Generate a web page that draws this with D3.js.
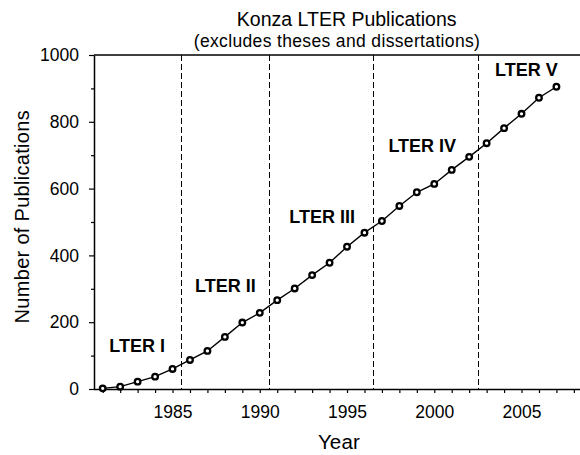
<!DOCTYPE html>
<html>
<head>
<meta charset="utf-8">
<script src="https://cdn.jsdelivr.net/npm/d3@7"></script>
<style>
  html, body { margin: 0; padding: 0; background: #fff; }
  svg { display: block; font-family: "Liberation Sans", Arial, sans-serif; }
</style>
</head>
<body>
<svg id="chart" width="580" height="455"></svg>
<script>
// ---- Data ----
const years = [1981, 1982, 1983, 1984, 1985, 1986, 1987, 1988, 1989, 1990,
               1991, 1992, 1993, 1994, 1995, 1996, 1997, 1998, 1999, 2000,
               2001, 2002, 2003, 2004, 2005, 2006, 2007];
const publications = [2, 7, 22, 37, 60, 87, 114, 156, 199, 228,
                      266, 301, 341, 378, 426, 468, 503, 548, 589, 614,
                      656, 695, 736, 781, 824, 872, 905];
const phaseBoundaries = [1985.5, 1990.5, 1996.5, 2002.5];
const phaseNames = ["LTER I", "LTER II", "LTER III", "LTER IV", "LTER V"];
const xTickYears = [1981, 1982, 1983, 1984, 1985, 1986, 1987, 1988, 1989, 1990,
                    1991, 1992, 1993, 1994, 1995, 1996, 1997, 1998, 1999, 2000,
                    2001, 2002, 2003, 2004, 2005, 2006, 2007, 2008];
const yMajorTicks = [0, 200, 400, 600, 800, 1000];
const yMinorTicks = [100, 300, 500, 700, 900];
const titleText = "Konza LTER Publications";
const subtitleText = "(excludes theses and dissertations)";
const xLabel = "Year";
const yLabel = "Number of Publications";

(function () {
// ---- Layout ----
const svg = d3.select("#chart");
const mLeft = 94, mTop = 55, mBottom = 389;
const pxPerYear = 17.45;
const x = d3.scaleLinear().domain([1980.5, 2008.5]).range([mLeft, mLeft + 28 * pxPerYear]);
const y = d3.scaleLinear().domain([0, 1000]).range([mBottom, mTop]);

// phase label anchors in data units (year, value)
const phaseAnchors = [[1981.38, 112], [1986.29, 291], [1991.69, 498], [1997.37, 710], [2003.48, 937]];

// dashed phase boundaries
svg.append("g").selectAll("line").data(phaseBoundaries).join("line")
  .attr("x1", d => Math.round(x(d)) + 0.5).attr("x2", d => Math.round(x(d)) + 0.5)
  .attr("y1", y(1000)).attr("y2", y(0))
  .attr("stroke", "#000").attr("stroke-width", 1)
  .attr("stroke-dasharray", "6,3");

// top frame line
svg.append("line")
  .attr("x1", mLeft).attr("x2", 600)
  .attr("y1", y(1000)).attr("y2", y(1000))
  .attr("stroke", "#000").attr("stroke-width", 1.5);

// x axis
const xAxis = d3.axisBottom(x).tickValues(xTickYears).tickSize(4).tickSizeOuter(0)
  .tickFormat(d => (d % 5 === 0 ? String(d) : ""));
const gx = svg.append("g").attr("transform", `translate(0,${mBottom})`).call(xAxis);
gx.select(".domain").attr("d", `M${mLeft},0.5H600`).attr("stroke-width", 1.5);
gx.selectAll(".tick line").attr("stroke-width", 1.2);
gx.selectAll(".tick text").attr("font-size", 17.5).attr("font-family", "Liberation Sans, Arial, sans-serif")
  .attr("fill", "#000").attr("y", 17).attr("dy", "0.71em");

// y axis minor
const gyMinor = svg.append("g").attr("transform", `translate(${mLeft},0)`)
  .call(d3.axisLeft(y).tickValues(yMinorTicks).tickSize(3).tickFormat(""));
gyMinor.select(".domain").remove();
gyMinor.selectAll(".tick line").attr("stroke-width", 1.2);

// y axis major
const gy = svg.append("g").attr("transform", `translate(${mLeft},0)`)
  .call(d3.axisLeft(y).tickValues(yMajorTicks).tickSize(5).tickSizeOuter(0).tickPadding(10)
    .tickFormat(d3.format("d")));
gy.select(".domain").attr("stroke-width", 1.5);
gy.selectAll(".tick line").attr("stroke-width", 1.2);
gy.selectAll(".tick text").attr("font-size", 17.5).attr("font-family", "Liberation Sans, Arial, sans-serif")
  .attr("fill", "#000");

// line
const line = d3.line().x((d, i) => x(years[i])).y(d => y(d));
svg.append("path").datum(publications)
  .attr("d", line).attr("fill", "none").attr("stroke", "#000").attr("stroke-width", 1.4);

// markers
svg.append("g").selectAll("circle").data(publications).join("circle")
  .attr("cx", (d, i) => x(years[i])).attr("cy", d => y(d))
  .attr("r", 2.8).attr("fill", "#fff").attr("stroke", "#000").attr("stroke-width", 2.3);

// phase labels
svg.append("g").selectAll("text").data(phaseNames).join("text")
  .attr("x", (d, i) => x(phaseAnchors[i][0]))
  .attr("y", (d, i) => y(phaseAnchors[i][1]))
  .attr("font-size", 18).attr("font-weight", "bold").attr("fill", "#000")
  .text(d => d);

// titles
svg.append("text").attr("x", 346.7).attr("y", 26).attr("text-anchor", "middle")
  .attr("font-size", 19.5).attr("letter-spacing", 0).text(titleText);
svg.append("text").attr("x", 337).attr("y", 46.5).attr("text-anchor", "middle")
  .attr("font-size", 17.5).attr("letter-spacing", 0.35).text(subtitleText);
svg.append("text").attr("x", 339).attr("y", 449).attr("text-anchor", "middle")
  .attr("font-size", 20.5).attr("letter-spacing", 0.2).text(xLabel);
svg.append("text").attr("transform", "translate(28.5,216.7) rotate(-90)").attr("text-anchor", "middle")
  .attr("font-size", 20).attr("letter-spacing", 0.3).text(yLabel);
})();
</script>
</body>
</html>
